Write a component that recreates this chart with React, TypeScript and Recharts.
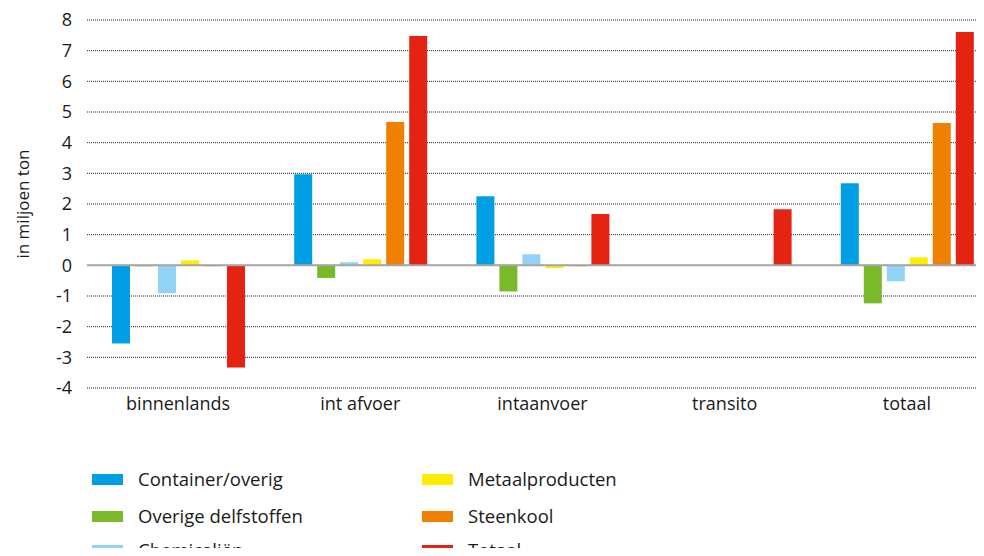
import React from 'react';
import { BarChart, Bar, XAxis, YAxis, CartesianGrid, ReferenceLine } from 'recharts';

const categories = ['binnenlands', 'int afvoer', 'intaanvoer', 'transito', 'totaal'];
const containerOverig = [-2.55, 2.97, 2.25, 0, 2.68];
const overigeDelfstoffen = [-0.03, -0.41, -0.85, 0, -1.24];
const chemicalien = [-0.91, 0.1, 0.36, 0, -0.52];
const metaalproducten = [0.16, 0.2, -0.09, 0, 0.26];
const steenkool = [-0.03, 4.67, -0.03, 0, 4.64];
const totaal = [-3.33, 7.48, 1.67, 1.83, 7.61];
const yTicks = [-4, -3, -2, -1, 0, 1, 2, 3, 4, 5, 6, 7, 8];

const seriesNames = ['Container/overig', 'Overige delfstoffen', 'Chemicaliën', 'Metaalproducten', 'Steenkool', 'Totaal'];
const seriesValues = [containerOverig, overigeDelfstoffen, chemicalien, metaalproducten, steenkool, totaal];
const seriesColors = ['#009fe3', '#7ab929', '#91d2f5', '#ffed00', '#f08100', '#e42313'];

const data = categories.map((c, i) => {
  const row: Record<string, number | string> = { name: c };
  seriesNames.forEach((s, k) => {
    row['s' + k] = seriesValues[k][i];
  });
  return row;
});

const FONT = '"Open Sans", "Noto Sans", sans-serif';

const YLabel = (props: any) => {
  const vb = props.viewBox || { x: 0, y: 0, width: 0, height: 0 };
  const x = vb.x + 22;
  const y = vb.y + vb.height / 2;
  return (
    <text
      x={x}
      y={y}
      transform={`rotate(-90 ${x} ${y})`}
      textAnchor="middle"
      dominantBaseline="central"
      fontSize={17}
      fill="#1a1a1a"
      fontFamily={FONT}
    >
      in miljoen ton
    </text>
  );
};

export default function App() {
  const legendCols = [
    [0, 1, 2],
    [3, 4, 5],
  ];
  const colX = [92, 422];
  const rowY = [479, 516, 550];
  return (
    <div style={{ position: 'relative', margin: -8, width: 984, height: 556, overflow: 'hidden', background: '#fff', fontFamily: FONT }}>
      <BarChart
        width={998}
        height={556}
        data={data}
        margin={{ top: 20, right: 0, bottom: 138, left: 0 }}
        barSize={18}
        barGap={5}
      >
        <CartesianGrid vertical={false} stroke="#222" strokeDasharray="1 1" />
        <XAxis
          dataKey="name"
          axisLine={false}
          tickLine={false}
          height={30}
          tickMargin={3}
          tick={{ fontSize: 18, fill: '#1a1a1a', fontFamily: FONT }}
          interval={0}
        />
        <YAxis
          width={87}
          domain={[-4, 8]}
          ticks={yTicks}
          axisLine={false}
          tickLine={false}
          tickMargin={9}
          interval={0}
          tick={{ fontSize: 18, fill: '#1a1a1a', fontFamily: FONT }}
          label={<YLabel />}
        />
        <ReferenceLine y={0} stroke="#a6a6a6" strokeWidth={2} ifOverflow="extendDomain" />
        {seriesNames.map((s, k) => (
          <Bar key={s} dataKey={'s' + k} name={s} fill={seriesColors[k]} isAnimationActive={false} />
        ))}
      </BarChart>
      {legendCols.map((col, ci) =>
        col.map((k, ri) => (
          <div
            key={k}
            style={{
              position: 'absolute',
              left: colX[ci],
              top: rowY[ri] - 14,
              height: 28,
              display: 'flex',
              alignItems: 'center',
              whiteSpace: 'nowrap',
            }}
          >
            <span style={{ display: 'inline-block', width: 31, height: 11, background: seriesColors[k], marginRight: 15 }} />
            <span style={{ fontSize: 18.5, lineHeight: '28px', color: '#1a1a1a', fontFamily: FONT }}>{seriesNames[k]}</span>
          </div>
        ))
      )}
    </div>
  );
}
